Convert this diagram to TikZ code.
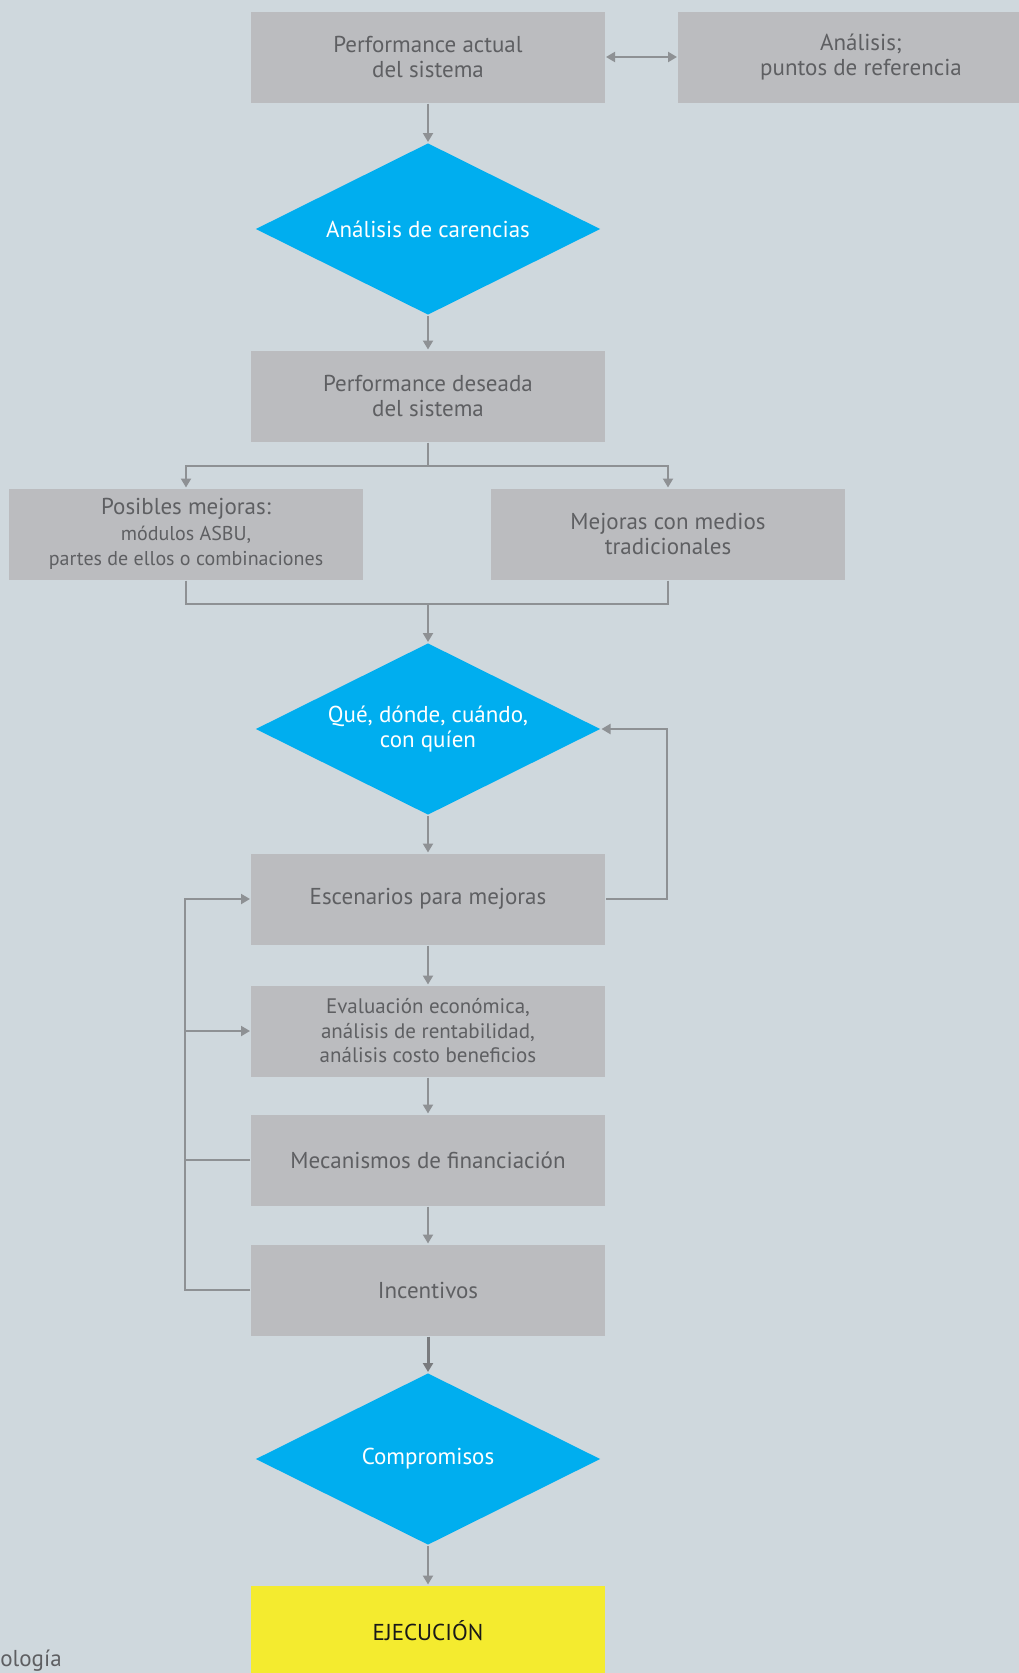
\documentclass[tikz,border=0pt]{standalone}
\usepackage{fontspec}
\setmainfont{PT Sans}
\usetikzlibrary{arrows.meta,positioning,shapes.geometric,calc}
\definecolor{bgcol}{HTML}{CFD8DD}
\definecolor{boxcol}{HTML}{BBBCBF}
\definecolor{txtcol}{HTML}{5E5F62}
\definecolor{linecol}{HTML}{8E9194}
\definecolor{dmdcol}{HTML}{00AEEF}
\definecolor{yelcol}{HTML}{F4EB2F}
\tikzset{
  every picture/.style={line width=2pt},
  every node/.style={font=\fontsize{23}{25.5}\selectfont},
  pbox/.style={fill=boxcol, text=txtcol, minimum width=354pt, minimum height=91pt, inner sep=0pt, align=center},
  dmd/.style={diamond, aspect=2, fill=dmdcol, text=white, minimum width=345pt, minimum height=172pt, inner sep=0pt, align=center},
  endbox/.style={pbox, fill=yelcol, text=black!90},
  flow/.style={draw=linecol, -{Triangle[length=9pt,width=10pt]}},
  link/.style={draw=linecol}
}
\begin{document}
\begin{tikzpicture}[x=1pt, y=-1pt]
    \fill[bgcol] (0,0) rectangle (1019,1673);
    \useasboundingbox (0,0) rectangle (1019,1673);

    \node [pbox] (actual) at (428,57) {Performance actual\\del sistema};
    \node [pbox, minimum width=366pt] (analisis) at (861,57) {Análisis;\\puntos de referencia};

    \node [dmd] (carencias) at (428,229) {Análisis de carencias};

    \node [pbox] (deseada) at (428,396) {Performance deseada\\del sistema};

    \node [pbox] (posibles) at (186,534) {Posibles mejoras:\\{\fontsize{20}{22.5}\selectfont módulos ASBU,}\\{\fontsize{20}{22.5}\selectfont partes de ellos o combinaciones}};
    \node [pbox] (medios) at (668,534) {Mejoras con medios\\tradicionales};

    \node [dmd] (que) at (428,729) {Qué, dónde, cuándo,\\con quíen};

    \node [pbox] (escenarios) at (428,899) {Escenarios para mejoras};
    \node [pbox, font=\fontsize{21}{24.5}\selectfont] (evaluacion) at (428,1031) {Evaluación económica,\\análisis de rentabilidad,\\análisis costo beneficios};
    \node [pbox] (financ) at (428,1160) {Mecanismos de financiación};
    \node [pbox] (incentivos) at (428,1290) {Incentivos};

    \node [dmd] (compromisos) at (428,1459) {Compromisos};

    \node [endbox] (ejecucion) at (428,1631) {EJECUCIÓN};

    \node [text=txtcol, anchor=base east] (meto) at (66,1666) {ología};

    % main column
    \draw [linecol, {Triangle[length=9pt,width=10pt]}-{Triangle[length=9pt,width=10pt]}] (actual) -- (analisis);
    \draw [flow] (actual) -- (carencias);
    \draw [flow] (carencias) -- (deseada);

    % split and merge
    \draw [link] (deseada.south) -- ++(0,23) coordinate (split);
    \draw [flow] (split) -| (posibles.north);
    \draw [flow] (split) -| (medios.north);
    \draw [link] (posibles.south) |- ($(que.north)+(0,-38)$) coordinate (merge);
    \draw [link] (medios.south) |- (merge);
    \draw [flow] (merge) -- (que.north);

    \draw [flow] (que) -- (escenarios);
    \draw [flow] (escenarios.east) -- ++(61,0) |- (que.east);

    \draw [flow] (escenarios) -- (evaluacion);
    \draw [flow] (evaluacion) -- (financ);
    \draw [flow] (financ) -- (incentivos);

    % return loop on the left
    \draw [flow] (incentivos.west) -- ++(-65,0) coordinate (lp) |- (escenarios.west);
    \draw [flow] (lp |- evaluacion.west) -- (evaluacion.west);
    \draw [link] (financ.west) -- (lp |- financ.west);

    \draw [flow, line width=3pt, draw=linecol!85!black] (incentivos) -- (compromisos);
    \draw [flow] (compromisos) -- (ejecucion);
\end{tikzpicture}
\end{document}
